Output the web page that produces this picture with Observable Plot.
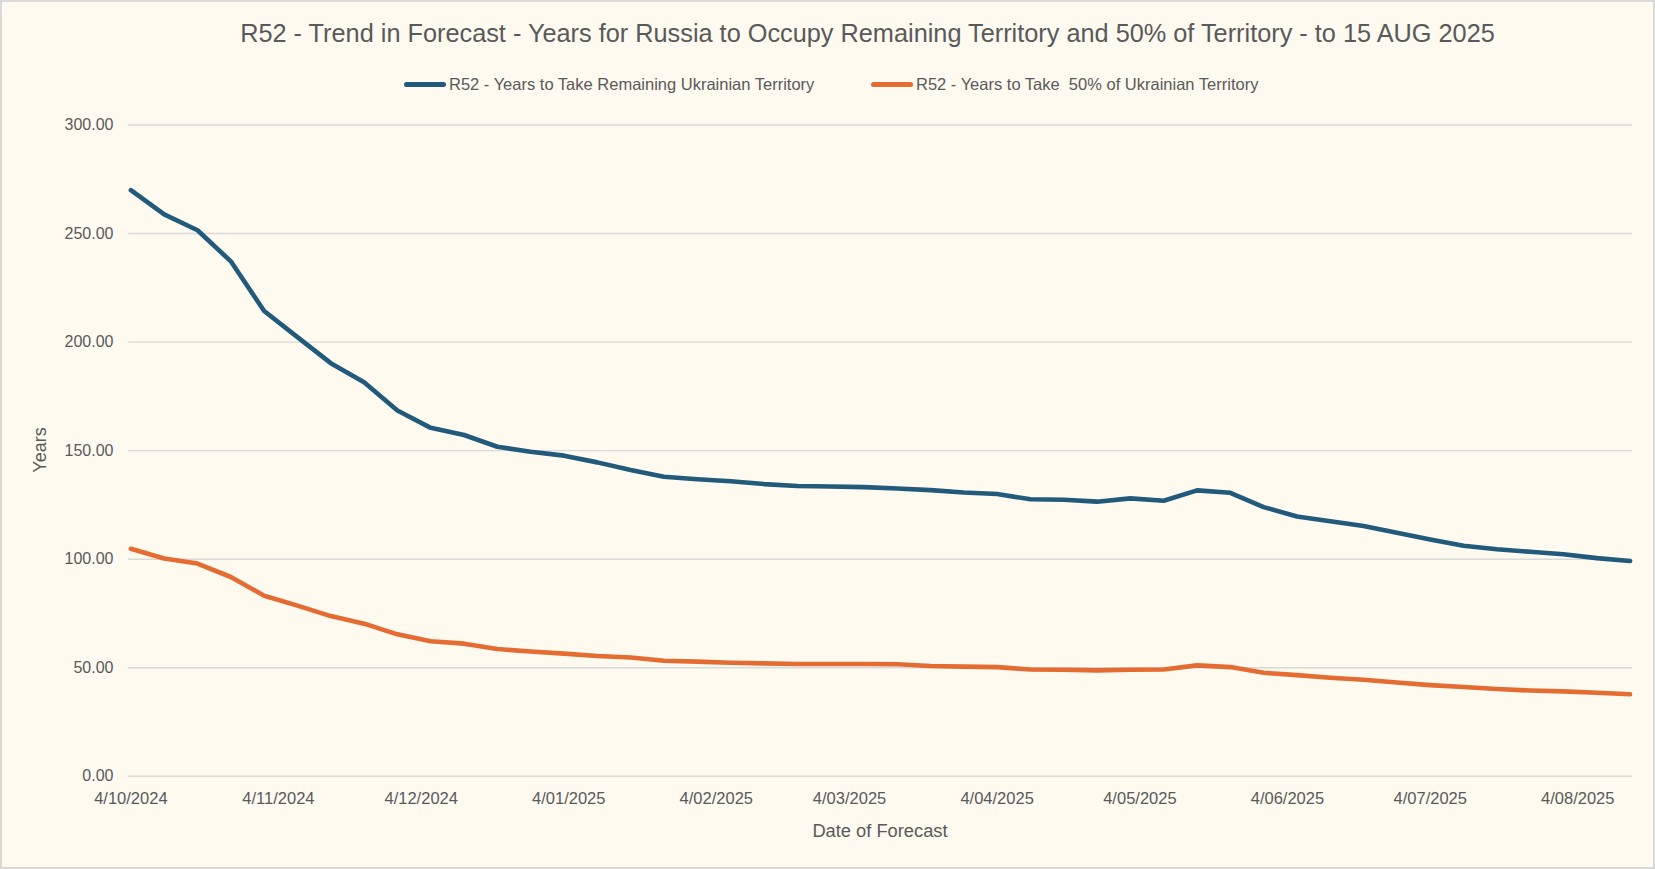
<!DOCTYPE html>
<html>
<head>
<meta charset="utf-8">
<script src="https://cdn.jsdelivr.net/npm/d3@7"></script>
<script src="https://cdn.jsdelivr.net/npm/@observablehq/plot@0.6"></script>
<style>
  html, body { margin: 0; padding: 0; background: #fefaf0; }
  #frame { position: relative; width: 1655px; height: 869px; background: #fefaf0; overflow: hidden;
           font-family: "Liberation Sans", Arial, sans-serif; color: #595959; }
  #border { position: absolute; left: 0; top: 0; width: 1655px; height: 869px; box-sizing: border-box;
            border: 2px solid #d9d9d9; pointer-events: none; z-index: 5; }
  #title { position: absolute; left: 40px; width: 1655px; top: 19px; text-align: center; font-size: 25.3px; white-space: nowrap; }
  .sw { position: absolute; top: 82px; width: 42px; height: 5px; border-radius: 3px; }
  .lt { position: absolute; top: 74px; font-size: 16.5px; white-space: pre; line-height: 20px; }
  #plot { position: absolute; left: 0; top: 100px; }
  #xlabel { position: absolute; top: 820px; left: 0; width: 1760px; text-align: center; font-size: 18.3px; }
  #ylabel { position: absolute; left: 40px; top: 450px; font-size: 18px; transform: translate(-50%, -50%) rotate(-90deg); white-space: nowrap; }
</style>
</head>
<body>
<div id="frame">
  <div id="title"></div>
  <div class="sw" id="sw0"></div><div class="lt" id="lt0"></div>
  <div class="sw" id="sw1"></div><div class="lt" id="lt1"></div>
  <div id="plot"></div>
  <div id="xlabel"></div>
  <div id="ylabel"></div>
  <div id="border"></div>
</div>
<script>
// ---- data ----
const titleText = "R52 - Trend in Forecast - Years for Russia to Occupy Remaining Territory and 50% of Territory - to 15 AUG 2025";
const seriesNames = ["R52 - Years to Take Remaining Ukrainian Territory", "R52 - Years to Take  50% of Ukrainian Territory"];
const seriesColors = ["#215a7b", "#e46b32"];
const xAxisTitle = "Date of Forecast";
const yAxisTitle = "Years";

const dates = [
  "2024-10-04","2024-10-11","2024-10-18","2024-10-25",
  "2024-11-01","2024-11-08","2024-11-15","2024-11-22","2024-11-29",
  "2024-12-06","2024-12-13","2024-12-20","2024-12-27",
  "2025-01-03","2025-01-10","2025-01-17","2025-01-24","2025-01-31",
  "2025-02-07","2025-02-14","2025-02-21","2025-02-28",
  "2025-03-07","2025-03-14","2025-03-21","2025-03-28",
  "2025-04-04","2025-04-11","2025-04-18","2025-04-25",
  "2025-05-02","2025-05-09","2025-05-16","2025-05-23","2025-05-30",
  "2025-06-06","2025-06-13","2025-06-20","2025-06-27",
  "2025-07-04","2025-07-11","2025-07-18","2025-07-25",
  "2025-08-01","2025-08-08","2025-08-15"
];

const remainingYears = [
  270.0, 258.8, 251.5, 237.2, 214.3, 202.3, 190.3, 181.5, 168.5, 160.5,
  157.2, 151.8, 149.5, 147.7, 144.6, 141.1, 138.0, 136.8, 135.9, 134.6,
  133.7, 133.5, 133.2, 132.6, 131.8, 130.7, 130.0, 127.6, 127.4, 126.5,
  128.0, 126.9, 131.7, 130.6, 124.0, 119.7, 117.5, 115.3, 112.2, 109.1,
  106.2, 104.6, 103.4, 102.3, 100.5, 99.2
];

const halfYears = [
  104.8, 100.3, 98.0, 91.8, 83.2, 78.6, 73.8, 70.3, 65.4, 62.2,
  61.1, 58.6, 57.5, 56.5, 55.4, 54.7, 53.2, 52.8, 52.3, 52.0,
  51.7, 51.7, 51.7, 51.6, 50.8, 50.5, 50.3, 49.2, 49.1, 48.8,
  49.1, 49.2, 51.1, 50.3, 47.7, 46.6, 45.4, 44.5, 43.2, 42.0,
  41.1, 40.2, 39.5, 39.1, 38.5, 37.8
];

const xTickDates = ["2024-10-04","2024-11-04","2024-12-04","2025-01-04","2025-02-04","2025-03-04",
                    "2025-04-04","2025-05-04","2025-06-04","2025-07-04","2025-08-04"];
const xTickLabels = ["4/10/2024","4/11/2024","4/12/2024","4/01/2025","4/02/2025","4/03/2025",
                     "4/04/2025","4/05/2025","4/06/2025","4/07/2025","4/08/2025"];
const yTicks = [0, 50, 100, 150, 200, 250, 300];
const yTickLabels = ["0.00","50.00","100.00","150.00","200.00","250.00","300.00"];

// ---- build ----
const parse = s => new Date(s + "T00:00:00Z");
const rowsA = dates.map((d, i) => ({date: parse(d), value: remainingYears[i]}));
const rowsB = dates.map((d, i) => ({date: parse(d), value: halfYears[i]}));
const tickDateObjs = xTickDates.map(parse);
const xLabelMap = new Map(tickDateObjs.map((d, i) => [+d, xTickLabels[i]]));
const yLabelMap = new Map(yTicks.map((v, i) => [v, yTickLabels[i]]));

document.getElementById("title").textContent = titleText;
document.getElementById("xlabel").textContent = xAxisTitle;
document.getElementById("ylabel").textContent = yAxisTitle;
const legendPos = [[404, 449], [871, 916]];
[0, 1].forEach(i => {
  const sw = document.getElementById("sw" + i);
  sw.style.left = legendPos[i][0] + "px";
  sw.style.background = seriesColors[i];
  const lt = document.getElementById("lt" + i);
  lt.style.left = legendPos[i][1] + "px";
  lt.textContent = seriesNames[i];
});

const chart = Plot.plot({
  width: 1655,
  height: 769,
  marginTop: 24.5,
  marginBottom: 93.2,
  marginLeft: 128,
  marginRight: 23,
  style: {background: "transparent", fontFamily: '"Liberation Sans", Arial, sans-serif', color: "#595959", overflow: "visible"},
  x: {type: "utc", domain: [new Date("2024-10-03T12:00:00Z"), new Date("2025-08-15T12:00:00Z")]},
  y: {domain: [0, 300]},
  marks: [
    Plot.gridY(yTicks, {stroke: "#d9d9d9", strokeOpacity: 1, strokeWidth: 1.4}),
    Plot.axisY(yTicks, {tickSize: 0, tickPadding: 15, fontSize: 16, tickFormat: v => yLabelMap.get(v), label: null, fill: "#595959"}),
    Plot.axisX(tickDateObjs, {tickSize: 0, tickPadding: 16, fontSize: 16.5, tickFormat: d => xLabelMap.get(+d), label: null, fill: "#595959"}),
    Plot.line(rowsA, {x: "date", y: "value", stroke: seriesColors[0], strokeWidth: 4.6, strokeLinecap: "round", strokeLinejoin: "round"}),
    Plot.line(rowsB, {x: "date", y: "value", stroke: seriesColors[1], strokeWidth: 4.6, strokeLinecap: "round", strokeLinejoin: "round"})
  ]
});
document.getElementById("plot").appendChild(chart);
</script>
</body>
</html>
